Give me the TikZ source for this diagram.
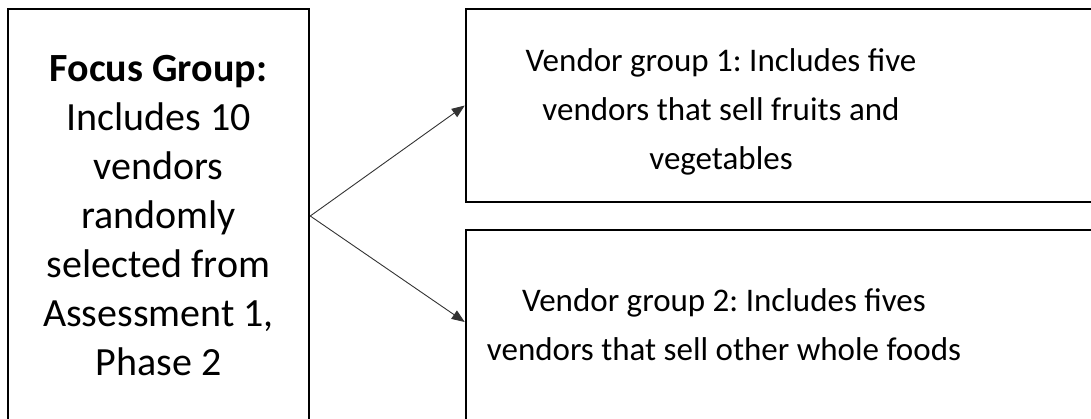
\documentclass[tikz,border=0pt]{standalone}
\usepackage{fontspec}
\setmainfont{Carlito}
\usetikzlibrary{arrows.meta}
\frenchspacing
\tikzset{
  box/.style={draw, line width=2.5pt, inner sep=0pt},
  txt/.style={align=center, font=\fontsize{33}{49}\selectfont},
  link/.style={draw=black!80, line width=0.9pt, -{Triangle[length=13pt,width=10pt]}}
}
\begin{document}
\begin{tikzpicture}[x=1pt,y=-1pt]
\useasboundingbox (0,0) rectangle (1091,418);
\node[box, minimum width=301pt, minimum height=414pt, align=center, font=\fontsize{40}{49}\selectfont] (focus) at (158.5,216) {\textbf{Focus Group:}\\Includes 10\\vendors\\randomly\\selected from\\Assessment 1,\\Phase 2};
\node[box, minimum width=634pt, minimum height=193pt] (vg1) at (783,105.5) {};
\node[txt] (vg1txt) at (721,112) {Vendor group 1: Includes five\\vendors that sell fruits and\\vegetables};
\node[box, minimum width=634pt, minimum height=194pt] (vg2) at (783,327) {};
\node[txt] (vg2txt) at (724,325) {Vendor group 2: Includes fives\\vendors that sell other whole foods};
\draw[link] (focus.east) -- (vg1.west);
\draw[link] (focus.east) -- ([yshift=5pt]vg2.west);
\end{tikzpicture}
\end{document}
